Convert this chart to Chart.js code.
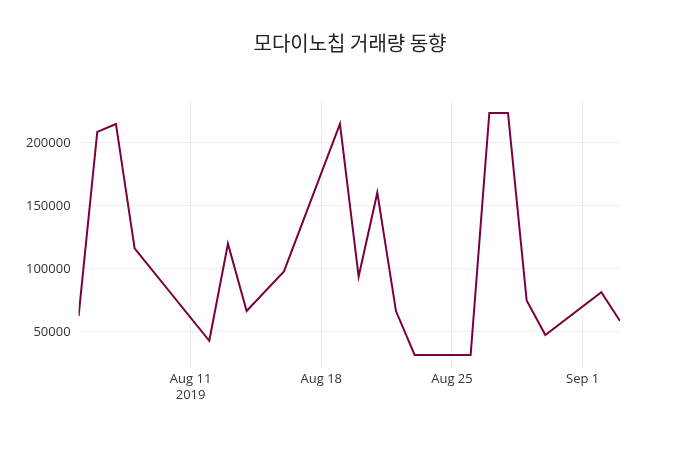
<!DOCTYPE html>
<html>
<head>
<meta charset="utf-8">
<script src="https://cdn.jsdelivr.net/npm/chart.js@4"></script>
<style>
  body { margin: 0; background: #fff; }
  #wrap { position: relative; width: 700px; height: 450px; }
  #title {
    position: absolute; top: 28px; left: 0; width: 700px; text-align: center;
    font: 20px "Noto Sans CJK KR", sans-serif; color: #222;
  }
</style>
</head>
<body>
<div id="wrap">
  <div id="title">모다이노칩 거래량 동향</div>
  <canvas id="chart"></canvas>
</div>
<script>
// days counted from Aug 5, 2019
const days = [0, 1, 2, 3, 7, 8, 9, 11, 14, 15, 16, 17, 18, 21, 22, 23, 24, 25, 28, 29];
const volumes = [62600, 208700, 215000, 116300, 43000, 120000, 66600, 98000, 215000, 94000,
  160500, 66600, 31800, 31800, 223700, 223700, 75000, 47600, 81600, 58700];
const tickDays = [6, 13, 20, 27];
const tickLabels = [['Aug 11', '2019'], 'Aug 18', 'Aug 25', 'Sep 1'];

const font = { family: '"Open Sans", sans-serif', size: 13 };

new Chart(document.getElementById('chart'), {
  type: 'line',
  data: {
    datasets: [{
      data: days.map((d, i) => ({ x: d, y: volumes[i] })),
      borderColor: '#7a0040',
      borderWidth: 2,
      pointRadius: 0,
      tension: 0,
    }],
  },
  options: {
    responsive: true,
    maintainAspectRatio: false,
    animation: false,
    layout: { padding: { left: 18, right: 80, top: 100, bottom: 44 } },
    plugins: {
      legend: { display: false },
      tooltip: { enabled: false },
    },
    scales: {
      x: {
        type: 'linear',
        min: 0,
        max: 29,
        afterBuildTicks: (axis) => { axis.ticks = tickDays.map((v) => ({ value: v })); },
        ticks: {
          color: '#333',
          font,
          maxRotation: 0,
          callback: (v) => tickLabels[tickDays.indexOf(v)],
        },
        grid: { color: '#eeeeee', drawTicks: false },
        border: { display: false },
      },
      y: {
        min: 20800,
        max: 234000,
        afterBuildTicks: (axis) => {
          axis.ticks = [50000, 100000, 150000, 200000].map((v) => ({ value: v }));
        },
        ticks: { color: '#333', font, padding: 8, callback: (v) => String(v) },
        grid: { color: '#eeeeee', drawTicks: false },
        border: { display: false },
      },
    },
  },
});
</script>
</body>
</html>
